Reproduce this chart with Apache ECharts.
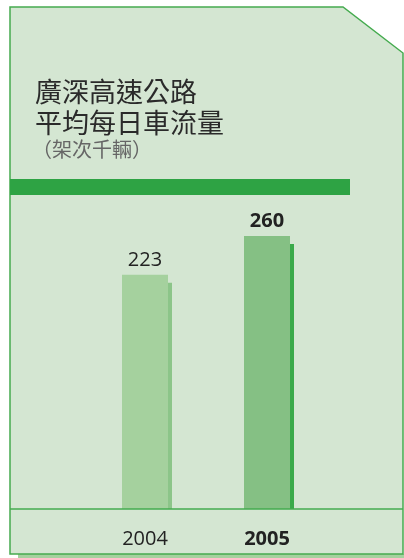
<!DOCTYPE html>
<html>
<head>
<meta charset="utf-8">
<script src="https://cdn.jsdelivr.net/npm/echarts@6/dist/echarts.min.js"></script>
<style>
html,body{margin:0;padding:0;background:#fff}
#main{width:404px;height:558px}
</style>
</head>
<body>
<div id="main"></div>
<script>
// 數據
var years = ['2004', '2005'];
var traffic = [223, 260];
var barColors = ['#a5d19e', '#85c084'];
var shadeColors = ['#8cc589', '#3aaa4a'];
var boldYear = [false, true];

var myChart = echarts.init(document.getElementById('main'));

var cjk = '"Noto Sans CJK TC", "Noto Sans CJK SC", sans-serif';
var num = '"Open Sans", "Noto Sans", sans-serif';

var option = {
    animation: false,
    title: [{
        text: '廣深高速公路\n平均每日車流量',
        left: 35,
        top: 76,
        padding: 0,
        textStyle: {
            fontFamily: cjk,
            fontSize: 27,
            lineHeight: 31,
            fontWeight: 'normal',
            color: '#2a2a2a'
        }
    }, {
        text: '（架次千輛）',
        left: 32,
        top: 139,
        padding: 0,
        textStyle: {
            fontFamily: '"Noto Sans CJK SC", "Noto Sans CJK TC", sans-serif',
            fontSize: 20,
            lineHeight: 20,
            fontWeight: 'normal',
            color: '#666'
        }
    }],
    graphic: [{
        type: 'rect',
        z: 0,
        shape: {x: 18, y: 554, width: 386, height: 4},
        style: {fill: '#a5d19e'}
    }, {
        type: 'polygon',
        z: 0,
        shape: {points: [[10, 7], [343, 7], [403, 53], [403, 554], [10, 554]]},
        style: {fill: '#d4e6d2', stroke: '#45ab4f', lineWidth: 1.5}
    }, {
        type: 'rect',
        z: 1,
        shape: {x: 10, y: 179, width: 340, height: 16},
        style: {fill: '#2ea344'}
    }, {
        type: 'line',
        z: 10,
        shape: {x1: 10, y1: 509, x2: 403, y2: 509},
        style: {stroke: '#45ab4f', lineWidth: 1.5}
    }],
    grid: {left: 84, right: 76, top: 194, bottom: 49},
    xAxis: {
        type: 'category',
        data: years,
        axisLine: {show: false},
        axisTick: {show: false},
        axisLabel: {
            margin: 20,
            formatter: function (v, i) {
                return boldYear[i] ? '{b|' + v + '}' : '{n|' + v + '}';
            },
            rich: {
                n: {fontFamily: num, fontSize: 20, color: '#222'},
                b: {fontFamily: num, fontSize: 20, fontWeight: 'bold', color: '#222'}
            }
        }
    },
    yAxis: {
        type: 'value',
        min: 0,
        max: 300,
        show: false
    },
    series: [{
        type: 'custom',
        data: traffic.map(function (v, i) { return [years[i], v]; }),
        renderItem: function (params, api) {
            var i = params.dataIndex;
            var top = api.coord([api.value(0), api.value(1)]);
            var base = api.coord([api.value(0), 0]);
            var w = 46;
            var x0 = top[0] - w / 2;
            return {
                type: 'group',
                children: [{
                    type: 'rect',
                    shape: {x: x0 + 4, y: top[1] + 8, width: w, height: base[1] - top[1] - 8},
                    style: {fill: shadeColors[i]}
                }, {
                    type: 'rect',
                    shape: {x: x0, y: top[1], width: w, height: base[1] - top[1]},
                    style: {fill: barColors[i]}
                }, {
                    type: 'text',
                    x: top[0],
                    y: top[1] - 15,
                    style: {
                        text: String(api.value(1)),
                        align: 'center',
                        verticalAlign: 'middle',
                        fontFamily: num,
                        fontSize: 20,
                        fontWeight: boldYear[i] ? 'bold' : 'normal',
                        fill: '#222'
                    }
                }]
            };
        }
    }]
};

myChart.setOption(option);
</script>
</body>
</html>
